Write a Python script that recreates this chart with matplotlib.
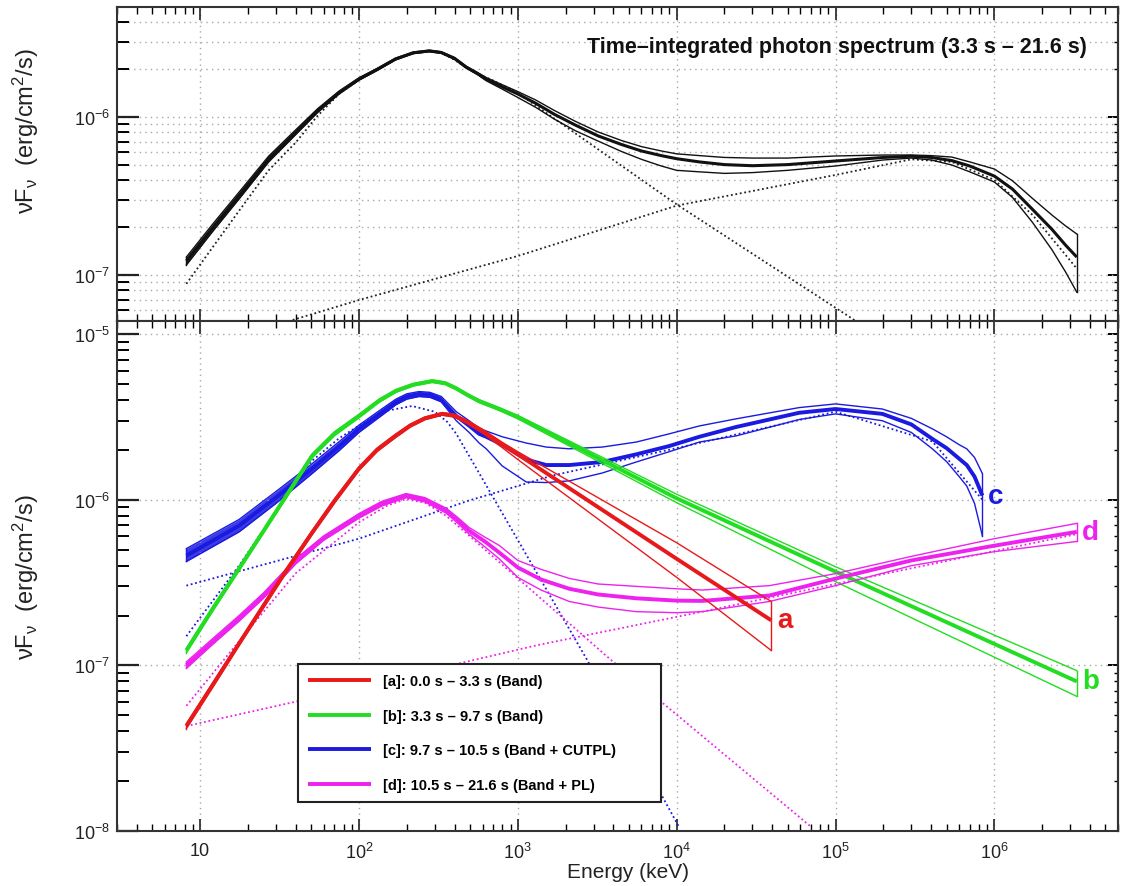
import numpy as np
import matplotlib
matplotlib.use('Agg')
import matplotlib.pyplot as plt
from matplotlib.ticker import LogLocator, FixedLocator, FuncFormatter, NullFormatter

plt.rcParams['font.family'] = ['Liberation Sans', 'DejaVu Sans']
plt.rcParams['mathtext.fontset'] = 'custom'
plt.rcParams['mathtext.rm'] = 'Liberation Sans'
plt.rcParams['mathtext.it'] = 'Liberation Sans:italic'
plt.rcParams['mathtext.bf'] = 'Liberation Sans:bold'
plt.rcParams['mathtext.default'] = 'regular'

# ---- top panel: time-integrated spectrum ----
E_top = [8.2, 12, 18, 27, 40, 55, 75, 100, 130, 170, 220, 277, 330, 400, 473, 560, 631, 800,
         1000, 1300, 1700, 2300, 3200, 4500, 6000, 8000, 1e4, 1.39e4, 2e4, 3e4, 5e4, 1e5, 2e5,
         3e5, 4e5, 5.4e5, 7e5, 1e6, 1.3e6, 1.74e6, 2.3e6, 2.8e6, 3.3e6]
top_mid = [1.23e-7, 1.99e-7, 3.27e-7, 5.42e-7, 8.0e-7, 1.1e-6, 1.43e-6, 1.74e-6, 2.0e-6, 2.33e-6,
           2.55e-6, 2.62e-6, 2.56e-6, 2.35e-6, 2.07e-6, 1.88e-6, 1.74e-6, 1.55e-6, 1.4e-6,
           1.22e-6, 1.04e-6, 8.9e-7, 7.6e-7, 6.7e-7, 6.1e-7, 5.7e-7, 5.45e-7, 5.2e-7, 5.0e-7,
           4.92e-7, 5.0e-7, 5.27e-7, 5.55e-7, 5.65e-7, 5.55e-7, 5.3e-7, 4.9e-7, 4.23e-7, 3.5e-7,
           2.6e-7, 1.95e-7, 1.55e-7, 1.3e-7]
top_hi = [1.3e-7, 2.1e-7, 3.44e-7, 5.65e-7, 8.3e-7, 1.13e-6, 1.46e-6, 1.77e-6, 2.03e-6, 2.36e-6,
          2.58e-6, 2.65e-6, 2.59e-6, 2.38e-6, 2.1e-6, 1.91e-6, 1.78e-6, 1.6e-6, 1.45e-6, 1.28e-6,
          1.1e-6, 9.4e-7, 8.05e-7, 7.1e-7, 6.5e-7, 6.1e-7, 5.85e-7, 5.7e-7, 5.55e-7, 5.5e-7,
          5.5e-7, 5.67e-7, 5.75e-7, 5.75e-7, 5.7e-7, 5.58e-7, 5.2e-7, 4.69e-7, 3.95e-7, 3.05e-7,
          2.4e-7, 2.05e-7, 1.82e-7]
top_lo = [1.16e-7, 1.89e-7, 3.12e-7, 5.2e-7, 7.75e-7, 1.07e-6, 1.4e-6, 1.71e-6, 1.97e-6, 2.3e-6,
          2.52e-6, 2.59e-6, 2.53e-6, 2.32e-6, 2.04e-6, 1.85e-6, 1.7e-6, 1.5e-6, 1.33e-6, 1.15e-6,
          9.7e-7, 8.2e-7, 7.05e-7, 6.05e-7, 5.4e-7, 4.9e-7, 4.6e-7, 4.5e-7, 4.4e-7, 4.45e-7,
          4.6e-7, 4.9e-7, 5.35e-7, 5.5e-7, 5.35e-7, 4.97e-7, 4.5e-7, 3.88e-7, 3.1e-7, 2.15e-7,
          1.45e-7, 1.05e-7, 7.8e-8]
E_top_band = [8.2, 12, 18, 27, 40, 55, 75, 100, 130, 170, 220, 277, 330, 400, 500, 700, 1000,
              1e4, 1.35e5]
top_band = [8.8e-8, 1.5e-7, 2.63e-7, 4.6e-7, 6.9e-7, 1.02e-6, 1.4e-6, 1.72e-6, 2.0e-6, 2.33e-6,
            2.55e-6, 2.62e-6, 2.55e-6, 2.3e-6, 1.98e-6, 1.7e-6, 1.42e-6, 2.8e-7, 5.1e-8]
E_top_cpl = [36, 100, 1000, 1e4, 1e5, 3e5, 5.4e5, 1e6, 1.74e6, 3.3e6]
top_cpl = [5.1e-8, 6.95e-8, 1.32e-7, 2.75e-7, 4.3e-7, 5.4e-7, 5.2e-7, 4.0e-7, 2.4e-7, 1.1e-7]

# ---- bottom panel: time-resolved spectra ----
E_a = [8.2, 12, 18, 25, 35, 50, 70, 100, 130, 170, 210, 260, 334, 400, 480, 600, 800, 1000,
       1e4, 3.94e4]
a_mid = [4.3e-8, 7.6e-8, 1.4e-7, 2.28e-7, 3.75e-7, 6.2e-7, 9.8e-7, 1.54e-6, 2.0e-6, 2.43e-6,
         2.8e-6, 3.1e-6, 3.3e-6, 3.22e-6, 2.95e-6, 2.6e-6, 2.15e-6, 1.88e-6, 4.4e-7, 1.87e-7]
a_hi = [4.45e-8, 7.85e-8, 1.44e-7, 2.35e-7, 3.86e-7, 6.38e-7, 1.01e-6, 1.58e-6, 2.05e-6, 2.49e-6,
        2.86e-6, 3.16e-6, 3.36e-6, 3.28e-6, 3.01e-6, 2.66e-6, 2.22e-6, 1.95e-6, 5.5e-7, 2.43e-7]
a_lo = [4.15e-8, 7.35e-8, 1.36e-7, 2.21e-7, 3.64e-7, 6.02e-7, 9.5e-7, 1.5e-6, 1.95e-6, 2.37e-6,
        2.74e-6, 3.04e-6, 3.24e-6, 3.15e-6, 2.88e-6, 2.52e-6, 2.06e-6, 1.75e-6, 3.4e-7, 1.23e-7]

E_b = [8.2, 12, 17.6, 25, 35, 50.7, 70, 100, 135, 171, 220, 289, 350, 410, 480, 571, 764, 1000,
       1e4, 1e5, 3.3e6]
b_mid = [1.23e-7, 2.19e-7, 3.84e-7, 6.44e-7, 1.06e-6, 1.84e-6, 2.5e-6, 3.2e-6, 3.98e-6, 4.54e-6,
         4.95e-6, 5.2e-6, 5.05e-6, 4.7e-6, 4.3e-6, 3.94e-6, 3.53e-6, 3.16e-6, 1.02e-6, 3.68e-7, 8.0e-8]
b_hi = [1.27e-7, 2.26e-7, 3.95e-7, 6.62e-7, 1.09e-6, 1.89e-6, 2.57e-6, 3.28e-6, 4.07e-6, 4.63e-6,
        5.04e-6, 5.29e-6, 5.14e-6, 4.79e-6, 4.38e-6, 4.02e-6, 3.6e-6, 3.23e-6, 1.08e-6, 3.94e-7, 9.3e-8]
b_lo = [1.19e-7, 2.12e-7, 3.73e-7, 6.26e-7, 1.03e-6, 1.79e-6, 2.43e-6, 3.12e-6, 3.89e-6, 4.45e-6,
        4.86e-6, 5.11e-6, 4.96e-6, 4.61e-6, 4.22e-6, 3.86e-6, 3.46e-6, 3.08e-6, 9.6e-7, 3.2e-7, 6.5e-8]

E_c = [8.2, 17.6, 30, 50.7, 75, 100, 135, 171, 200, 239, 280, 330, 410, 494, 571, 633, 798,
       1130, 1510, 2110, 3400, 5570, 8980, 1.39e4, 2.37e4, 5.9e4, 1e5, 1.97e5, 3e5, 4.07e5, 5e5,
       6e5, 6.7e5, 7.5e5, 8.4e5]
c_mid = [4.6e-7, 6.97e-7, 1.03e-6, 1.54e-6, 2.1e-6, 2.68e-6, 3.3e-6, 3.89e-6, 4.2e-6, 4.35e-6,
         4.3e-6, 4.0e-6, 3.2e-6, 2.8e-6, 2.5e-6, 2.4e-6, 2.15e-6, 1.75e-6, 1.62e-6, 1.62e-6,
         1.69e-6, 1.88e-6, 2.11e-6, 2.4e-6, 2.75e-6, 3.35e-6, 3.53e-6, 3.3e-6, 2.85e-6, 2.33e-6,
         2.05e-6, 1.77e-6, 1.62e-6, 1.38e-6, 1.06e-6]
c_hi = [5.07e-7, 7.6e-7, 1.12e-6, 1.65e-6, 2.24e-6, 2.82e-6, 3.46e-6, 4.05e-6, 4.36e-6, 4.5e-6,
        4.45e-6, 4.2e-6, 3.4e-6, 3.0e-6, 2.7e-6, 2.6e-6, 2.4e-6, 2.2e-6, 2.08e-6, 2.03e-6,
        2.08e-6, 2.23e-6, 2.5e-6, 2.79e-6, 3.08e-6, 3.6e-6, 3.79e-6, 3.53e-6, 3.1e-6, 2.68e-6,
        2.4e-6, 2.15e-6, 2.03e-6, 1.8e-6, 1.44e-6]
c_lo = [4.24e-7, 6.4e-7, 9.5e-7, 1.44e-6, 1.98e-6, 2.55e-6, 3.16e-6, 3.75e-6, 4.05e-6, 4.2e-6,
        4.15e-6, 3.9e-6, 3.0e-6, 2.55e-6, 2.2e-6, 2.03e-6, 1.6e-6, 1.28e-6, 1.27e-6, 1.3e-6,
        1.45e-6, 1.69e-6, 1.95e-6, 2.23e-6, 2.43e-6, 3.05e-6, 3.3e-6, 3.0e-6, 2.55e-6, 2.03e-6,
        1.7e-6, 1.38e-6, 1.21e-6, 9.5e-7, 6.07e-7]

E_d = [8.2, 12, 17.6, 25, 40, 60, 100, 140, 198, 260, 354, 420, 494, 620, 764, 1000, 1400, 2110,
       3200, 5570, 1e4, 1.45e4, 3.83e4, 1e5, 3e5, 1e6, 3.3e6]
d_mid = [1.0e-7, 1.39e-7, 1.92e-7, 2.63e-7, 4.24e-7, 5.86e-7, 8.0e-7, 9.5e-7, 1.06e-6, 1.0e-6,
         8.6e-7, 7.5e-7, 6.5e-7, 5.6e-7, 4.8e-7, 3.9e-7, 3.3e-7, 2.9e-7, 2.68e-7, 2.54e-7, 2.46e-7,
         2.45e-7, 2.64e-7, 3.34e-7, 4.3e-7, 5.28e-7, 6.4e-7]
d_hi = [1.05e-7, 1.45e-7, 2.0e-7, 2.73e-7, 4.4e-7, 6.05e-7, 8.25e-7, 9.8e-7, 1.09e-6, 1.03e-6,
        8.9e-7, 7.8e-7, 6.8e-7, 5.95e-7, 5.3e-7, 4.3e-7, 3.8e-7, 3.35e-7, 3.1e-7, 3.0e-7, 2.9e-7,
        2.85e-7, 3.03e-7, 3.58e-7, 4.55e-7, 5.82e-7, 7.2e-7]
d_lo = [9.6e-8, 1.34e-7, 1.85e-7, 2.54e-7, 4.1e-7, 5.7e-7, 7.75e-7, 9.2e-7, 1.03e-6, 9.7e-7,
        8.3e-7, 7.2e-7, 6.2e-7, 5.2e-7, 4.4e-7, 3.4e-7, 2.85e-7, 2.43e-7, 2.25e-7, 2.11e-7, 2.08e-7,
        2.11e-7, 2.43e-7, 3.03e-7, 4.0e-7, 4.86e-7, 5.6e-7]

# model components (dotted)
E_c_band = [8.2, 17.6, 30, 50, 75, 100, 150, 216, 300, 360, 410, 494, 2700, 1.04e4]
c_band = [1.5e-7, 4.0e-7, 8.5e-7, 1.7e-6, 2.35e-6, 2.8e-6, 3.45e-6, 3.68e-6, 3.4e-6, 2.95e-6,
          2.5e-6, 1.84e-6, 1.1e-7, 1.05e-8]
E_c_cpl = [8.2, 100, 494, 764, 1650, 1e4, 1e5, 4.07e5, 8.4e5]
c_cpl = [3.03e-7, 5.82e-7, 9.9e-7, 1.12e-6, 1.4e-6, 2.05e-6, 3.4e-6, 2.25e-6, 1.0e-6]
E_d_band = [8.2, 17.6, 40, 100, 150, 198, 260, 354, 494, 3770, 7.1e4]
d_band = [5.7e-8, 1.4e-7, 3.6e-7, 7.3e-7, 9.2e-7, 1.01e-6, 9.6e-7, 8.0e-7, 6.07e-7, 1.1e-7, 1.05e-8]
E_d_pl = [8.2, 42, 1306, 1.45e4, 1e5, 1e6, 3.3e6]
d_pl = [4.3e-8, 6.1e-8, 1.32e-7, 2.11e-7, 3.1e-7, 4.9e-7, 6.2e-7]

x_decades = [10, 1e2, 1e3, 1e4, 1e5, 1e6]
labels = ['[a]: 0.0 s – 3.3 s (Band)',
          '[b]: 3.3 s – 9.7 s (Band)',
          '[c]: 9.7 s – 10.5 s (Band + CUTPL)',
          '[d]: 10.5 s – 21.6 s (Band + PL)']
colors = {'a': '#e8191a', 'b': '#22dd22', 'c': '#1a1ae0', 'd': '#ee22ee'}
ylab = r'νF$_{ν}$  (erg/cm$^{2}$/s)'


def dec_fmt(v, pos):
    e = int(round(np.log10(v)))
    if e == 1:
        return '10'
    return r'$10^{%d}$' % e


def style(ax, ylim, y_decades):
    ax.set_xscale('log')
    ax.set_yscale('log')
    ax.set_xlim(3, 6e6)
    ax.set_ylim(*ylim)
    ax.xaxis.set_major_locator(FixedLocator(x_decades))
    ax.yaxis.set_major_locator(FixedLocator(y_decades))
    for axis in (ax.xaxis, ax.yaxis):
        axis.set_minor_locator(LogLocator(base=10, subs=np.arange(2, 10), numticks=20))
        axis.set_major_formatter(FuncFormatter(dec_fmt))
        axis.set_minor_formatter(NullFormatter())
    ax.tick_params(axis='x', which='major', direction='in', length=9, width=1.2,
                   top=True, bottom=True, pad=8, labelsize=13, colors='#222222')
    ax.tick_params(axis='x', which='minor', direction='in', length=5, width=1.0,
                   top=True, bottom=True)
    ax.tick_params(axis='y', which='major', direction='in', length=16, width=1.6,
                   left=True, right=False, labelsize=13, pad=5, colors='#222222')
    ax.tick_params(axis='y', which='minor', direction='in', length=8.5, width=1.4,
                   left=True, right=False)
    for s in ax.spines.values():
        s.set_linewidth(1.5)
        s.set_color('#333333')
    sec = ax.secondary_yaxis('right')
    sec.yaxis.set_major_locator(FixedLocator(y_decades))
    sec.yaxis.set_minor_locator(LogLocator(base=10, subs=np.arange(2, 10), numticks=20))
    sec.yaxis.set_major_formatter(NullFormatter())
    sec.yaxis.set_minor_formatter(NullFormatter())
    sec.tick_params(which='major', direction='in', length=7, width=1.4)
    sec.tick_params(which='minor', direction='in', length=3, width=1.0)
    sec.spines['right'].set_linewidth(1.5)
    sec.spines['right'].set_color('#333333')


def band(ax, E, mid, hi, lo, color, lw_mid=2.8, lw_b=1.0, label=None, fill_to=None):
    ax.plot(E, hi, color=color, lw=lw_b)
    ax.plot(E, lo, color=color, lw=lw_b)
    ax.plot([E[-1], E[-1]], [lo[-1], hi[-1]], color=color, lw=lw_b)
    ax.plot([E[0], E[0]], [lo[0], hi[0]], color=color, lw=lw_b)
    if fill_to is not None:
        k = sum(e <= fill_to for e in E)
        ax.fill_between(E[:k], lo[:k], hi[:k], color=color, alpha=0.85, lw=0)
    line, = ax.plot(E, mid, color=color, lw=lw_mid, label=label, solid_capstyle='butt')
    return line


fig = plt.figure(figsize=(11.22, 8.87), dpi=100)
ax1 = fig.add_axes([117 / 1122, 565 / 887, 1001 / 1122, 314 / 887])
ax2 = fig.add_axes([117 / 1122, 55 / 887, 1001 / 1122, 510 / 887])

gkw = dict(color='#a8a8a8', lw=1.0, ls=(0, (1, 3)))

# top panel
style(ax1, (5.12e-8, 4.97e-6), [1e-7, 1e-6])
ax1.grid(True, which='major', axis='x', **gkw)
ax1.grid(True, which='both', axis='y', **gkw)
ax1.tick_params(axis='x', labelbottom=False)
ax1.plot(E_top_band, top_band, color='#222222', lw=1.3, ls=(0, (1, 1.5)))
ax1.plot(E_top_cpl, top_cpl, color='#222222', lw=1.3, ls=(0, (1, 1.5)))
band(ax1, E_top, top_mid, top_hi, top_lo, '#111111', lw_mid=2.2, lw_b=1.0, fill_to=631)
ax1.text(0.969, 0.873, 'Time–integrated photon spectrum (3.3 s – 21.6 s)',
         transform=ax1.transAxes, ha='right', va='center', fontsize=15.5,
         fontweight='bold', color='#111111')
ax1.set_ylabel(ylab, fontsize=17, color='#222222')
ax1.yaxis.set_label_coords(-0.076, 0.608)

# bottom panel
style(ax2, (1e-8, 1.2e-5), [1e-8, 1e-7, 1e-6, 1e-5])
ax2.grid(True, which='major', **gkw)
dot = dict(lw=1.3, ls=(0, (1, 1.5)))
ax2.plot(E_c_band, c_band, color=colors['c'], **dot)
ax2.plot(E_c_cpl, c_cpl, color=colors['c'], **dot)
ax2.plot(E_d_band, d_band, color=colors['d'], **dot)
ax2.plot(E_d_pl, d_pl, color=colors['d'], **dot)

lc = band(ax2, E_c, c_mid, c_hi, c_lo, colors['c'], label=labels[2], fill_to=330)
lb = band(ax2, E_b, b_mid, b_hi, b_lo, colors['b'], label=labels[1])
ld = band(ax2, E_d, d_mid, d_hi, d_lo, colors['d'], label=labels[3], fill_to=260)
la = band(ax2, E_a, a_mid, a_hi, a_lo, colors['a'], label=labels[0])

for key, E, mid in (('a', E_a, a_mid), ('b', E_b, b_mid), ('c', E_c, c_mid), ('d', E_d, d_mid)):
    ax2.annotate(key, xy=(E[-1], mid[-1]), xytext=(4, 0), textcoords='offset points',
                 ha='left', va='center', fontsize=20, fontweight='bold', color=colors[key])

leg = ax2.legend([la, lb, lc, ld], labels, loc='lower left',
                 bbox_to_anchor=(0.181, 0.057, 0.362, 0.276), mode='expand',
                 borderaxespad=0, fancybox=False, framealpha=1, edgecolor='#222222',
                 handlelength=4.3, handletextpad=0.8, labelspacing=1.4, borderpad=0.7,
                 prop={'size': 10.5, 'weight': 'bold'})
leg.get_frame().set_linewidth(1.5)

ax2.set_ylabel(ylab, fontsize=17, color='#222222')
ax2.yaxis.set_label_coords(-0.076, 0.5)
ax2.set_xlabel('Energy (keV)', fontsize=15, color='#222222')
ax2.xaxis.set_label_coords(0.51, -0.06)

fig.savefig('out.png', dpi=100)
